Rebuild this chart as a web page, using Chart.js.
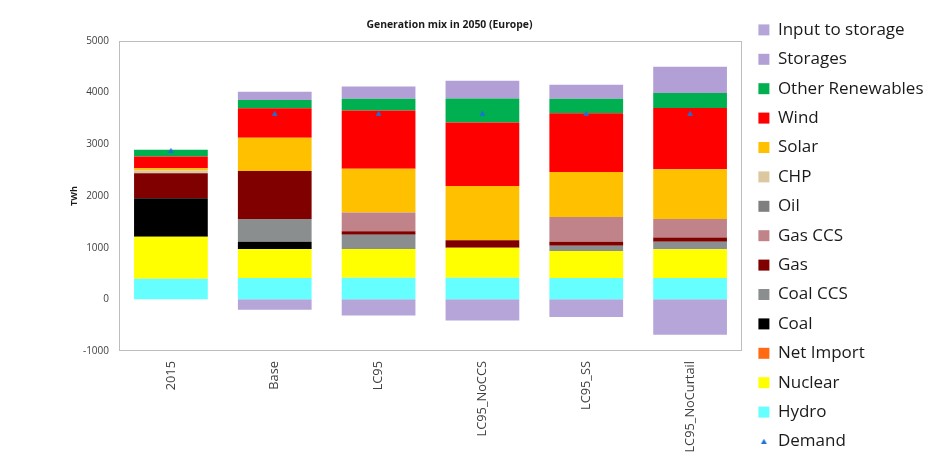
<!DOCTYPE html>
<html>
<head>
<meta charset="utf-8">
<title>Generation mix in 2050 (Europe)</title>
<script src="https://cdn.jsdelivr.net/npm/chart.js@4/dist/chart.umd.min.js"></script>
<style>
  html, body { margin: 0; padding: 0; background: #ffffff; }
  canvas { display: block; }
</style>
</head>
<body>
<canvas id="mix" width="931" height="457"></canvas>
<script>
// Scenarios on the category axis
const scenarios = ['2015', 'Base', 'LC95', 'LC95_NoCCS', 'LC95_SS', 'LC95_NoCurtail'];

// Generation by technology, TWh (stacked from the bottom up)
const hydro        = [400, 415, 420, 420, 415, 415];
const nuclear      = [810, 557, 556, 576, 520, 553];
const netImport    = [0, 0, 0, 0, 0, 0];
const coal         = [745, 142, 0, 0, 0, 0];
const coalCCS      = [0, 440, 272, 0, 100, 146];
const gas          = [485, 932, 71, 149, 78, 85];
const gasCCS       = [0, 0, 360, 0, 482, 355];
const oil          = [0, 0, 0, 0, 0, 0];
const chp          = [52, 0, 0, 0, 0, 0];
const solar        = [46, 641, 850, 1048, 871, 965];
const wind         = [226, 570, 1126, 1230, 1134, 1185];
const otherRen     = [129, 161, 227, 466, 283, 291];
const storages     = [0, 161, 239, 343, 272, 505];
const inputStorage = [0, -200, -315, -408, -340, -686];

// Electricity demand, TWh
const demand = [2880, 3600, 3600, 3600, 3600, 3600];

// Value axis ticks
const yTicks = [-1000, 0, 1000, 2000, 3000, 4000, 5000];

const FONT = "'Open Sans', 'Liberation Sans', sans-serif";

const stackSeries = [
  { label: 'Hydro',            data: hydro,        color: '#66ffff' },
  { label: 'Nuclear',          data: nuclear,      color: '#ffff00' },
  { label: 'Net Import',       data: netImport,    color: '#ff6a13' },
  { label: 'Coal',             data: coal,         color: '#000000' },
  { label: 'Coal CCS',         data: coalCCS,      color: '#8b8e8e' },
  { label: 'Gas',              data: gas,          color: '#800000' },
  { label: 'Gas CCS',          data: gasCCS,       color: '#c0838a' },
  { label: 'Oil',              data: oil,          color: '#7f7f7f' },
  { label: 'CHP',              data: chp,          color: '#dcc7a0' },
  { label: 'Solar',            data: solar,        color: '#ffc000' },
  { label: 'Wind',             data: wind,         color: '#ff0000' },
  { label: 'Other Renewables', data: otherRen,     color: '#00b050' },
  { label: 'Storages',         data: storages,     color: '#b19fd6' },
  { label: 'Input to storage', data: inputStorage, color: '#b5a5d9' }
];

// Small blue triangle used for the demand markers
function demandMarker() {
  const c = document.createElement('canvas');
  c.width = 11; c.height = 11;
  const g = c.getContext('2d');
  g.fillStyle = '#1f6fd6';
  g.beginPath();
  g.moveTo(5.5, 2.8);
  g.lineTo(8.4, 7.9);
  g.lineTo(2.6, 7.9);
  g.closePath();
  g.fill();
  return c;
}
const marker = demandMarker();

const datasets = [
  {
    type: 'line',
    label: 'Demand',
    data: demand,
    showLine: false,
    pointStyle: marker,
    pointRadius: 4,
    backgroundColor: '#1f6fd6',
    borderColor: '#1f6fd6',
    order: 0
  }
].concat(stackSeries.map(s => ({
  type: 'bar',
  label: s.label,
  data: s.data,
  backgroundColor: s.color,
  borderWidth: 0,
  barPercentage: 0.71,
  categoryPercentage: 1.0,
  stack: 'mix',
  order: 1
})));

// White background and a light frame around the plot area
const framePlugin = {
  id: 'frame',
  beforeDraw(chart) {
    const { ctx, chartArea: a } = chart;
    ctx.save();
    ctx.fillStyle = '#ffffff';
    ctx.fillRect(0, 0, chart.width, chart.height);
    ctx.strokeStyle = '#bdbdbd';
    ctx.lineWidth = 1;
    ctx.strokeRect(Math.round(a.left) + 0.5, Math.round(a.top) + 0.5,
                   Math.round(a.right - a.left) - 1, Math.round(a.bottom - a.top) - 1);
    ctx.restore();
  }
};

// Title sits a little right of the plot centre
const titleShift = {
  id: 'titleShift',
  afterLayout(chart) {
    if (chart.titleBlock) {
      chart.titleBlock.left += 19;
      chart.titleBlock.right += 19;
    }
  }
};

new Chart(document.getElementById('mix'), {
  type: 'bar',
  data: { labels: scenarios, datasets },
  plugins: [framePlugin, titleShift],
  options: {
    responsive: false,
    animation: false,
    layout: { padding: { left: 65, top: 9, right: 0, bottom: -9 } },
    scales: {
      x: {
        stacked: true,
        offset: true,
        grid: { display: false, drawTicks: false },
        border: { display: false },
        ticks: {
          autoSkip: false,
          minRotation: 90,
          maxRotation: 90,
          padding: 10,
          color: '#404040',
          font: { family: FONT, size: 12.8 }
        },
        afterFit(scale) { scale.height = 115; }
      },
      y: {
        stacked: true,
        min: yTicks[0],
        max: yTicks[yTicks.length - 1],
        afterBuildTicks(scale) { scale.ticks = yTicks.map(v => ({ value: v })); },
        grid: { display: false, drawTicks: false },
        border: { display: false },
        ticks: {
          padding: 10,
          color: '#404040',
          font: { family: FONT, size: 10 },
          callback: v => String(v)
        },
        title: {
          display: true,
          text: 'TWh',
          color: '#1a1a1a',
          font: { family: FONT, size: 9, weight: 'bold' },
          padding: { top: 4, bottom: 0 }
        },
        afterFit(scale) { scale.width = 54; }
      },
      gap: {
        type: 'linear',
        position: 'right',
        display: true,
        grid: { display: false, drawTicks: false },
        border: { display: false },
        ticks: { display: false },
        afterFit(scale) { scale.width = 4; }
      }
    },
    plugins: {
      title: {
        display: true,
        text: 'Generation mix in 2050 (Europe)',
        fullSize: false,
        color: '#1a1a1a',
        font: { family: FONT, size: 10.4, weight: 'bold' },
        padding: { top: 10, bottom: 9.5 }
      },
      legend: {
        position: 'right',
        align: 'start',
        reverse: true,
        maxWidth: 185,
        labels: {
          usePointStyle: true,
          boxWidth: 11,
          boxHeight: 11,
          padding: 12.4,
          color: '#1a1a1a',
          font: { family: FONT, size: 17 },
          generateLabels(chart) {
            const items = Chart.defaults.plugins.legend.labels.generateLabels(chart);
            items.forEach(it => {
              const ds = chart.data.datasets[it.datasetIndex];
              it.pointStyle = ds.type === 'line' ? marker : 'rect';
              it.lineWidth = 0;
            });
            return items;
          }
        }
      },
      tooltip: { enabled: false }
    }
  }
});
</script>
</body>
</html>
